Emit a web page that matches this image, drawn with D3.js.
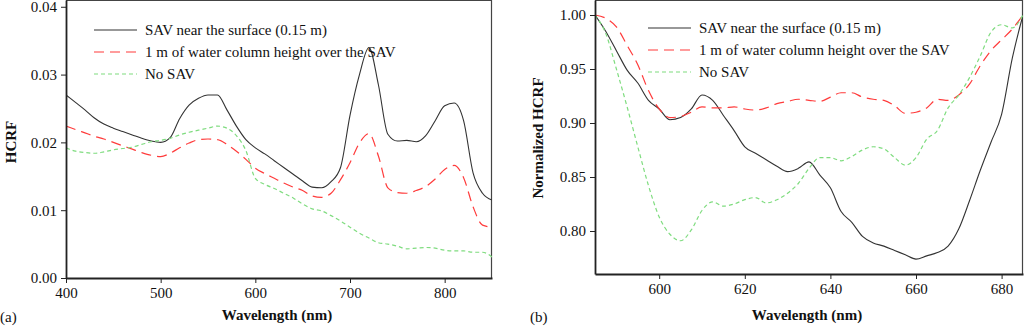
<!DOCTYPE html>
<html>
<head>
<meta charset="utf-8">
<script src="https://cdnjs.cloudflare.com/ajax/libs/d3/7.8.5/d3.min.js"></script>
<style>
body { margin: 0; background: #fff; }
svg { display: block; }
svg text { font-family: "Liberation Serif", "DejaVu Serif", "Tinos", serif; }
.axis path, .axis line { stroke: #222; }
.axis text { font-size: 15px; fill: #111; }
.title { font-size: 15px; font-weight: bold; fill: #111; }
.legend text { font-size: 15px; fill: #111; }
</style>
</head>
<body>
<div id="chart"></div>
<script>

// panel (a): HCRF, 400-850 nm every 10 nm
var wavesA = d3.range(400, 851, 10);
var surfA = [0.0270, 0.0259, 0.0248, 0.0236, 0.0227, 0.0221, 0.0216, 0.0211, 0.0206, 0.0202,
    0.0200, 0.0207, 0.0235, 0.0255, 0.0265, 0.0270, 0.0270, 0.0248, 0.0224, 0.0204,
    0.0192, 0.0183, 0.0173, 0.0163, 0.0153, 0.0143, 0.0134, 0.0133, 0.0142, 0.0163,
    0.0240, 0.0300, 0.0340, 0.0285, 0.0212, 0.0202, 0.0203, 0.0201, 0.0210, 0.0232,
    0.0254, 0.0258, 0.0232, 0.0155, 0.0125, 0.0115];
var waterA = [0.0224, 0.0219, 0.0214, 0.0209, 0.0205, 0.0200, 0.0195, 0.0190, 0.0185, 0.0181,
    0.0179, 0.0184, 0.0192, 0.0199, 0.0204, 0.0205, 0.0204, 0.0197, 0.0187, 0.0175,
    0.0162, 0.0154, 0.0147, 0.0140, 0.0134, 0.0129, 0.0121, 0.0119, 0.0125, 0.0145,
    0.0170, 0.0199, 0.0213, 0.0180, 0.0133, 0.0126, 0.0125, 0.0129, 0.0135, 0.0146,
    0.0160, 0.0166, 0.0148, 0.0105, 0.0078, 0.0075];
var noSavA = [0.0192, 0.0187, 0.0185, 0.0184, 0.0186, 0.0189, 0.0191, 0.0193, 0.0197, 0.0201,
    0.0203, 0.0206, 0.0211, 0.0215, 0.0218, 0.0221, 0.0224, 0.0221, 0.0210, 0.0188,
    0.0147, 0.0138, 0.0132, 0.0125, 0.0118, 0.0109, 0.0102, 0.0099, 0.0092, 0.0084,
    0.0075, 0.0066, 0.0059, 0.0052, 0.0050, 0.0047, 0.0043, 0.0044, 0.0045, 0.0044,
    0.0041, 0.0040, 0.0040, 0.0038, 0.0038, 0.0031];

// panel (b): normalized HCRF, 585-685 nm every 2.5 nm
var wavesB = d3.range(0, 41).map(function(i) { return 585 + i * 2.5; });
var surfB = [1.000, 0.985, 0.967, 0.949, 0.937, 0.921, 0.913, 0.903, 0.905, 0.913,
    0.926, 0.921, 0.907, 0.893, 0.878, 0.872, 0.866, 0.860, 0.855, 0.858,
    0.864, 0.852, 0.840, 0.818, 0.808, 0.795, 0.789, 0.786, 0.782, 0.778,
    0.774, 0.777, 0.780, 0.786, 0.802, 0.828, 0.856, 0.882, 0.908, 0.960, 1.000];
var waterB = [1.000, 0.997, 0.989, 0.972, 0.954, 0.930, 0.913, 0.905, 0.906, 0.910,
    0.915, 0.914, 0.914, 0.915, 0.913, 0.912, 0.914, 0.918, 0.920, 0.922,
    0.921, 0.920, 0.924, 0.928, 0.928, 0.924, 0.922, 0.921, 0.916, 0.909,
    0.910, 0.914, 0.922, 0.921, 0.926, 0.936, 0.953, 0.967, 0.977, 0.987, 1.000];
var noSavB = [1.000, 0.983, 0.950, 0.915, 0.878, 0.842, 0.813, 0.797, 0.791, 0.801,
    0.819, 0.827, 0.823, 0.825, 0.829, 0.831, 0.826, 0.829, 0.835, 0.844,
    0.858, 0.868, 0.868, 0.865, 0.869, 0.875, 0.878, 0.876, 0.868, 0.861,
    0.868, 0.885, 0.893, 0.914, 0.926, 0.942, 0.962, 0.984, 0.991, 0.988, 1.000];

var seriesNames = ["SAV near the surface (0.15 m)", "1 m of water column height over the SAV", "No SAV"];
var ticksAx = [400, 500, 600, 700, 800];
var ticksAy = [0, 0.01, 0.02, 0.03, 0.04];
var ticksBx = [600, 620, 640, 660, 680];
var ticksBy = [0.80, 0.85, 0.90, 0.95, 1.00];

var styles = [
    { color: "#333", dash: null, width: 1.1 },
    { color: "#ff3b3b", dash: "10,6", width: 1.2 },
    { color: "#7fdc7f", dash: "4,3", width: 1.2 }
];

var svg = d3.select("#chart").append("svg")
    .attr("width", 1024)
    .attr("height", 326);

function drawPanel(p) {
    var x = d3.scaleLinear().domain(p.xDomain).range([p.left, p.right]);
    var y = d3.scaleLinear().domain(p.yDomain).range([p.bottom, p.top]);

    var g = svg.append("g");

    // frame on top and right
    g.append("path")
        .attr("d", "M" + p.left + "," + (p.top + 0.5) + "H" + (p.right - 0.5) + "V" + p.bottom)
        .attr("fill", "none")
        .attr("stroke", "#444")
        .attr("stroke-width", 1.2);

    g.append("clipPath").attr("id", p.id)
        .append("rect")
        .attr("x", p.left).attr("y", p.top)
        .attr("width", p.right - p.left).attr("height", p.bottom - p.top);

    var line = d3.line()
        .x(function(d) { return x(d[0]); })
        .y(function(d) { return y(d[1]); })
        .curve(d3.curveMonotoneX);

    p.series.forEach(function(vals, i) {
        g.append("path")
            .datum(p.waves.map(function(w, j) { return [w, vals[j]]; }))
            .attr("clip-path", "url(#" + p.id + ")")
            .attr("fill", "none")
            .attr("stroke", styles[i].color)
            .attr("stroke-width", styles[i].width)
            .attr("stroke-dasharray", styles[i].dash)
            .attr("d", line);
    });

    g.append("g")
        .attr("class", "axis")
        .attr("transform", "translate(0," + p.bottom + ")")
        .call(d3.axisBottom(x).tickValues(p.xTicks).tickSize(5).tickSizeOuter(0).tickPadding(4).tickFormat(d3.format("d")))
        .call(function(a) {
            a.attr("font-family", null).attr("font-size", null);
            a.select(".domain").attr("stroke-width", 1.8);
        });

    g.append("g")
        .attr("class", "axis")
        .attr("transform", "translate(" + p.left + ",0)")
        .call(d3.axisLeft(y).tickValues(p.yTicks).tickSize(5).tickSizeOuter(0).tickPadding(4).tickFormat(d3.format(".2f")))
        .call(function(a) {
            a.attr("font-family", null).attr("font-size", null);
            a.select(".domain").attr("stroke-width", 1.8);
        });

    g.append("text")
        .attr("class", "title")
        .attr("x", (p.left + p.right) / 2 + p.xTitleShift)
        .attr("y", 320)
        .attr("text-anchor", "middle")
        .text("Wavelength (nm)");

    g.append("text")
        .attr("class", "title")
        .attr("transform", "translate(" + p.yTitleX + "," + p.yTitleY + ") rotate(-90)")
        .attr("text-anchor", "middle")
        .text(p.yTitle);

    g.append("text")
        .attr("x", p.letterX)
        .attr("y", 322)
        .attr("font-size", 15)
        .attr("fill", "#111")
        .text(p.letter);

    var legend = g.append("g").attr("class", "legend")
        .attr("clip-path", "url(#" + p.id + ")");
    seriesNames.forEach(function(name, i) {
        var ly = p.legendY + i * 22;
        legend.append("line")
            .attr("x1", p.legendX).attr("x2", p.legendX + 43)
            .attr("y1", ly).attr("y2", ly)
            .attr("stroke", styles[i].color)
            .attr("stroke-width", styles[i].width)
            .attr("stroke-dasharray", styles[i].dash);
        legend.append("text")
            .attr("x", p.legendX + 51)
            .attr("y", ly + 5)
            .text(name);
    });
}

drawPanel({
    id: "clipA", left: 66, right: 492, top: 0, bottom: 278,
    xDomain: [400, 850], yDomain: [0, 0.041],
    waves: wavesA, series: [surfA, waterA, noSavA],
    xTicks: ticksAx, yTicks: ticksAy,
    yTitle: "HCRF", yTitleX: 16, yTitleY: 142, xTitleShift: -2,
    letter: "(a)", letterX: 0,
    legendX: 94, legendY: 30
});

drawPanel({
    id: "clipB", left: 595, right: 1023, top: 0, bottom: 274,
    xDomain: [585, 685], yDomain: [0.7602, 1.0139],
    waves: wavesB, series: [surfB, waterB, noSavB],
    xTicks: ticksBx, yTicks: ticksBy,
    yTitle: "Normalized HCRF", yTitleX: 543, yTitleY: 138, xTitleShift: -2,
    letter: "(b)", letterX: 530,
    legendX: 648, legendY: 28
});

</script>
</body>
</html>
